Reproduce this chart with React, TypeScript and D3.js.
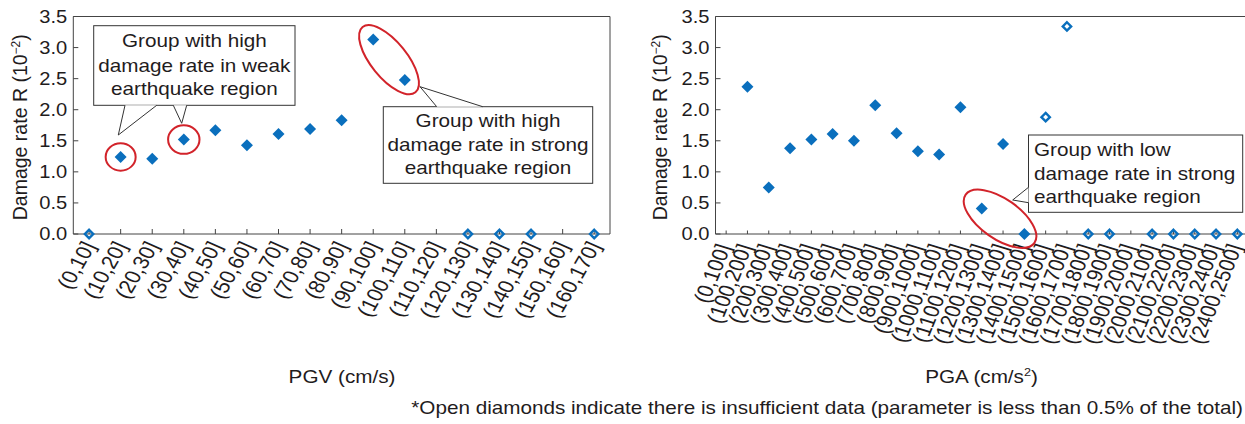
import * as d3 from 'd3';

// PGV bins (cm/s) and damage rate R (x10^-2); null = no point
const pgvBins = [
  '(0,10]', '(10,20]', '(20,30]', '(30,40]', '(40,50]', '(50,60]', '(60,70]', '(70,80]', '(80,90]',
  '(90,100]', '(100,110]', '(110,120]', '(120,130]', '(130,140]', '(140,150]', '(150,160]', '(160,170]',
];
const pgvRate = [0, 1.24, 1.21, 1.52, 1.67, 1.43, 1.61, 1.69, 1.83, 3.13, 2.48, null, 0, 0, 0, null, 0];
const pgvSparse = [true, false, false, false, false, false, false, false, false, false, false, false, true, true, true, false, true];

// PGA bins (cm/s^2)
const pgaBins = [
  '(0,100]', '(100,200]', '(200,300]', '(300,400]', '(400,500]', '(500,600]', '(600,700]', '(700,800]',
  '(800,900]', '(900,1000]', '(1000,1100]', '(1100,1200]', '(1200,1300]', '(1300,1400]', '(1400,1500]',
  '(1500,1600]', '(1600,1700]', '(1700,1800]', '(1800,1900]', '(1900,2000]', '(2000,2100]', '(2100,2200]',
  '(2200,2300]', '(2300,2400]', '(2400,2500]',
];
const pgaRate = [null, 2.37, 0.75, 1.38, 1.52, 1.61, 1.5, 2.07, 1.62, 1.33, 1.28, 2.04, 0.41, 1.45, 0, 1.88, 3.34, 0, 0, null, 0, 0, 0, 0, 0];
const pgaSparse = [false, false, false, false, false, false, false, false, false, false, false, false, false, false, false, true, true, true, true, false, true, true, true, true, true];

const yTicks = [0, 0.5, 1, 1.5, 2, 2.5, 3, 3.5];

const FONT = '"Liberation Sans", Arial, Helvetica, sans-serif';
const INK = '#1f1c1d';
const BLUE = '#0a6fbd';
const RED = '#d2232a';
const SX = 1.15; // reference glyphs are a bit wide

const TOP = 16.5;
const BOTTOM = 234;
const y = d3.scaleLinear().domain([0, 3.5]).range([BOTTOM, TOP]);

const diamond = (r: number) => `M0,${-r}L${r},0L0,${r}L${-r},0Z`;

function Txt({ x, y, size = 18, anchor = 'middle', children }: any) {
  return (
    <text transform={`translate(${x},${y}) scale(${SX},1)`} fontSize={size} textAnchor={anchor} fill={INK}>
      {children}
    </text>
  );
}

function Panel({ bins, rate, sparse, x0, x1, tickLen, angle, ldx, ldy, lsize, titleX }: any) {
  const n = bins.length;
  const x = d3.scaleLinear().domain([-0.5, n - 0.5]).range([x0, x1]);
  const idx = d3.range(n);
  const a = (Math.atan(Math.tan((angle * Math.PI) / 180) * SX) * 180) / Math.PI;
  return (
    <g>
      {/* frame */}
      <path d={`M${x0},${TOP}H${x1}V${BOTTOM}H${x0}Z`} fill="none" stroke="#444" strokeWidth={1} />
      {/* y ticks */}
      {yTicks.map((t) => (
        <g key={t}>
          <line x1={x0} x2={x0 + 5} y1={y(t)} y2={y(t)} stroke="#444" />
          <text
            transform={`translate(${x0 - 6},${y(t)}) scale(${SX},1)`}
            dy="0.36em"
            fontSize={17.5}
            textAnchor="end"
            fill={INK}
          >
            {t.toFixed(1)}
          </text>
        </g>
      ))}
      {/* x ticks + rotated labels */}
      {idx.map((i) => (
        <g key={i}>
          <line x1={x(i)} x2={x(i)} y1={BOTTOM} y2={BOTTOM - tickLen} stroke="#444" />
          <text
            transform={`translate(${x(i) + ldx},${BOTTOM + ldy}) scale(${SX},1) rotate(${-a})`}
            fontSize={lsize}
            textAnchor="end"
            fill={INK}
          >
            {bins[i]}
          </text>
        </g>
      ))}
      {/* markers */}
      {idx
        .filter((i) => rate[i] !== null)
        .map((i) =>
          sparse[i] ? (
            <path key={i} d={diamond(4.2)} transform={`translate(${x(i)},${y(rate[i])})`} fill="none" stroke={BLUE} strokeWidth={2.4} />
          ) : (
            <path key={i} d={diamond(6)} transform={`translate(${x(i)},${y(rate[i])})`} fill={BLUE} />
          )
        )}
      {/* y title */}
      <text transform={`translate(${titleX},${(TOP + BOTTOM) / 2 + 2}) rotate(-90)`} fontSize={19.5} textAnchor="middle" fill={INK}>
        Damage rate R (10<tspan dy={-7} fontSize={12}>−2</tspan>
        <tspan dy={7}>)</tspan>
      </text>
    </g>
  );
}

function Callout({ box, lines, align = 'middle', tails }: any) {
  const [bx, by, bw, bh] = box;
  const tx = align === 'middle' ? bx + bw / 2 : bx + 5.5;
  return (
    <g>
      <rect x={bx} y={by} width={bw} height={bh} fill="#fff" stroke="#333" strokeWidth={1} />
      {tails.map((t: number[][], k: number) => (
        <g key={k}>
          <polygon points={t.map((p) => p.join(',')).join(' ')} fill="#fff" />
          <polyline points={t.map((p) => p.join(',')).join(' ')} fill="none" stroke="#333" strokeWidth={1} />
        </g>
      ))}
      {lines.map((l: any, k: number) => (
        <Txt key={k} x={tx} y={l[1]} anchor={align === 'middle' ? 'middle' : 'start'}>
          {l[0]}
        </Txt>
      ))}
    </g>
  );
}

export default function App() {
  const xl = d3.scaleLinear().domain([-0.5, pgvBins.length - 0.5]).range([73.3, 610]);
  const xr = d3.scaleLinear().domain([-0.5, pgaBins.length - 0.5]).range([715.5, 1248]);
  const e2 = [(xl(9) + xl(10)) / 2, (y(pgvRate[9]!) + y(pgvRate[10]!)) / 2];
  const e3 = [(xr(12) + xr(14)) / 2 - 3, (y(pgaRate[12]!) + y(pgaRate[14]!)) / 2 - 2.5];
  return (
    <div style={{ position: 'absolute', left: 0, top: 0 }}>
      <svg width={1245} height={424} fontFamily={FONT} style={{ display: 'block', background: '#fff' }}>
        <Panel bins={pgvBins} rate={pgvRate} sparse={pgvSparse} x0={73.3} x1={610} tickLen={5} angle={60} ldx={7} ldy={12} lsize={19.5} titleX={27.3} />
        <Panel bins={pgaBins} rate={pgaRate} sparse={pgaSparse} x0={715.5} x1={1248} tickLen={3.5} angle={68} ldx={5} ldy={13} lsize={19.5} titleX={667} />

        {/* highlight ellipses */}
        <ellipse cx={xl(1)} cy={y(pgvRate[1]!)} rx={15} ry={13.7} fill="none" stroke={RED} strokeWidth={2} />
        <ellipse cx={xl(3)} cy={y(pgvRate[3]!)} rx={15.7} ry={14.3} fill="none" stroke={RED} strokeWidth={2} />
        <ellipse transform={`translate(${e2[0]},${e2[1]}) rotate(51)`} rx={42} ry={18} fill="none" stroke={RED} strokeWidth={2} />
        <ellipse transform={`translate(${e3[0]},${e3[1]}) rotate(35)`} rx={42} ry={20} fill="none" stroke={RED} strokeWidth={2} />

        <Callout
          box={[93.7, 25.7, 201.3, 79.6]}
          lines={[['Group with high', 47.3], ['damage rate in weak', 71.7], ['earthquake region', 95.3]]}
          tails={[
            [[125, 105.3], [118.3, 135], [156.7, 105.3]],
            [[173.3, 105.3], [181.7, 123.3], [186.7, 105.3]],
          ]}
        />
        <Callout
          box={[383.3, 106.7, 209.4, 76.6]}
          lines={[['Group with high', 126.7], ['damage rate in strong', 151], ['earthquake region', 174]]}
          tails={[[[436.7, 106.7], [420, 86.7], [482.7, 106.7]]]}
        />
        <Callout
          box={[1028.5, 135, 214.2, 77.3]}
          align="start"
          lines={[['Group with low', 156], ['damage rate in strong', 180], ['earthquake region', 203.3]]}
          tails={[[[1028.5, 187.3], [1012.7, 200], [1028.5, 202.7]]]}
        />

        {/* axis titles */}
        <Txt x={342} y={383}>PGV (cm/s)</Txt>
        <Txt x={981.5} y={383}>
          PGA (cm/s<tspan dy={-7} fontSize={11}>2</tspan>
          <tspan dy={7}>)</tspan>
        </Txt>
        <Txt x={1243} y={414} anchor="end">
          *Open diamonds indicate there is insufficient data (parameter is less than 0.5% of the total)
        </Txt>
      </svg>
    </div>
  );
}
